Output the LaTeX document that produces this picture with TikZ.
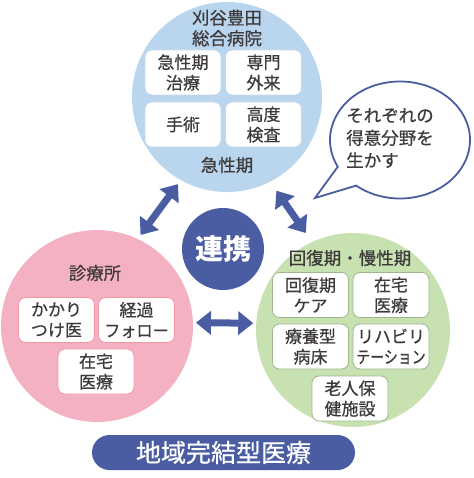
\documentclass[tikz,border=0pt]{standalone}
\usepackage{fontspec}
\setmainfont{Noto Sans CJK JP}
\newfontfamily\jpmedium{Noto Sans CJK JP}[RawFeature={embolden=0.6}]
\usetikzlibrary{shapes.callouts, arrows.meta}

\definecolor{acuteblue}{RGB}{185,214,238}
\definecolor{clinicpink}{RGB}{243,177,193}
\definecolor{chronicgreen}{RGB}{199,226,176}
\definecolor{navy}{RGB}{74,93,163}
\definecolor{textgray}{RGB}{62,58,58}

\begin{document}
\begin{tikzpicture}[x=1pt, y=-1pt,
    area/.style={circle, minimum size=192pt, inner sep=0pt, outer sep=0pt},
    item/.style={rectangle, rounded corners=7pt, fill=white, line width=0.8pt, minimum width=76pt, minimum height=45pt, inner sep=1pt, align=center, text=textgray, font=\jpmedium\fontsize{17}{20.5}\selectfont},
    heading/.style={align=center, text=textgray, font=\jpmedium\fontsize{17.5}{20.5}\selectfont},
    link/.style={draw=navy, line width=7pt, {Triangle[width=23pt,length=15pt]}-{Triangle[width=23pt,length=15pt]}},
]
    \useasboundingbox (0,0) rectangle (473,478);

    % Three areas
    \node[area, fill=acuteblue, minimum size=190pt] (acute) at (227,97) {};
    \node[area, fill=clinicpink] (clinic) at (97,326) {};
    \node[area, fill=chronicgreen, minimum size=194pt] (chronic) at (353,330) {};

    % Acute hospital
    \node[heading] (acutename) at (227,28) {刈谷豊田\\総合病院};
    \node[item, draw=acuteblue!80!navy!60] (acuteA) at (183,72.5) {急性期\\治療};
    \node[item, draw=acuteblue!80!navy!60] (acuteB) at (263.5,72.5) {専門\\外来};
    \node[item, draw=acuteblue!80!navy!60] (acuteC) at (183,124.5) {手術};
    \node[item, draw=acuteblue!80!navy!60] (acuteD) at (263.5,124.5) {高度\\検査};
    \node[heading] (acutelabel) at (227,165) {急性期};

    % Clinic
    \node[heading] (clinicname) at (95,273) {診療所};
    \node[item, draw=clinicpink!85!red] (clinicA) at (56.5,320) {かかり\\つけ医};
    \node[item, draw=clinicpink!85!red] (clinicB) at (136.5,320) {経過\\\scalebox{0.95}[1]{フォロー}};
    \node[item, draw=clinicpink!85!red] (clinicC) at (96,371.5) {在宅\\医療};

    % Recovery / chronic
    \node[heading] (chronicname) at (350,258) {回復期・慢性期};
    \node[item, draw=chronicgreen!80!black] (chronicA) at (310.5,295) {回復期\\ケア};
    \node[item, draw=chronicgreen!80!black] (chronicB) at (391,295) {在宅\\医療};
    \node[item, draw=chronicgreen!80!black] (chronicC) at (310.5,346.5) {療養型\\病床};
    \node[item, draw=chronicgreen!80!black] (chronicD) at (391,346.5) {リハビリ\\\scalebox{0.82}[1]{テーション}};
    \node[item, draw=chronicgreen!80!black] (chronicE) at (350,398.5) {老人保\\健施設};

    % Cooperation
    \node[circle, fill=navy, minimum size=82pt, inner sep=0pt, text=white, font=\fontsize{28}{30}\selectfont\bfseries] (coop) at (223,249) {連携};
    \draw[link, shorten <=5pt, shorten >=5pt] (clinic.65) -- (acute.241);
    \draw[link, shorten <=11pt, shorten >=11pt] (acute.297) -- (chronic.115);
    \draw[link, shorten <=3pt, shorten >=3pt] (clinic.2) -- (chronic.176);

    % Speech bubble
    \node[ellipse callout, draw=navy, line width=1.8pt, fill=white, minimum width=140pt, minimum height=117pt, callout absolute pointer={(315,198)}, callout pointer arc=24] (bubble) at (400,140) {};
    \node[align=left, text=textgray, font=\jpmedium\fontsize{17.5}{22.5}\selectfont] (bubbletext) at (390,138) {それぞれの\\得意分野を\\生かす};

    % Banner
    \node[rectangle, rounded corners=17.5pt, fill=navy, minimum width=263pt, minimum height=35pt, text=white, font=\jpmedium\fontsize{25}{27}\selectfont] (banner) at (223.5,452.5) {地域完結型医療};
\end{tikzpicture}
\end{document}
